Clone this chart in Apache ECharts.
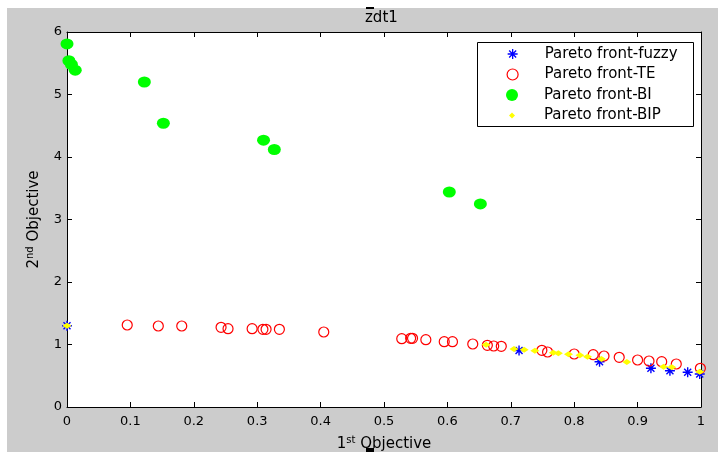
<!DOCTYPE html>
<html><head><meta charset="utf-8">
<script src="https://cdn.jsdelivr.net/npm/echarts@6/dist/echarts.min.js"></script>
<style>html,body{margin:0;padding:0;background:#fff}#c{width:718px;height:452px}</style>
</head><body><div id="c"></div>
<script>
// ---- data ----
const titleText = 'zdt1';
const seriesNames = ['Pareto front-fuzzy', 'Pareto front-TE', 'Pareto front-BI', 'Pareto front-BIP'];
const xMin = 0, xMax = 1, xStep = 0.1;
const yMin = 0, yMax = 6, yStep = 1;

const fuzzyPts = [[0, 1.30], [0.713, 0.905], [0.84, 0.725], [0.921, 0.62], [0.951, 0.58], [0.979, 0.555], [0.998, 0.528]];
const tePts = [
  [0.095, 1.312], [0.144, 1.296], [0.181, 1.296], [0.243, 1.275], [0.254, 1.253], [0.292, 1.253],
  [0.309, 1.243], [0.314, 1.243], [0.335, 1.243], [0.405, 1.20], [0.528, 1.093], [0.542, 1.099],
  [0.545, 1.099], [0.566, 1.077], [0.595, 1.045], [0.608, 1.045], [0.640, 1.008], [0.663, 0.987],
  [0.673, 0.976], [0.685, 0.971], [0.749, 0.907], [0.758, 0.88], [0.80, 0.848], [0.83, 0.837],
  [0.847, 0.816], [0.871, 0.795], [0.90, 0.752], [0.918, 0.736], [0.938, 0.725], [0.961, 0.688],
  [0.999, 0.619]
];
const biPts = [[0, 5.81], [0.003, 5.54], [0.007, 5.48], [0.013, 5.39], [0.122, 5.20], [0.152, 4.54],
  [0.31, 4.27], [0.327, 4.12], [0.603, 3.44], [0.652, 3.25]];
const bipPts = [[0, 1.30], [0.661, 0.997], [0.705, 0.93], [0.721, 0.917], [0.738, 0.90], [0.767, 0.87],
  [0.775, 0.859], [0.791, 0.843], [0.809, 0.827], [0.821, 0.805], [0.843, 0.768], [0.883, 0.72],
  [0.941, 0.645], [0.954, 0.635], [0.998, 0.565]];

// ---- styling ----
const FONT = 'DejaVu Sans';
const starPath = 'path://M0,5L10,5M5,0L5,10M1.5,1.5L8.5,8.5M1.5,8.5L8.5,1.5';
const diamondPath = 'path://M0,-1L1,0L0,1L-1,0Z';
const blue = '#0000ff', red = '#ff0000', green = '#00ff00', yellow = '#ffff00';

const chart = echarts.init(document.getElementById('c'));

const axisCommon = {
  type: 'value',
  axisLine: { show: true, onZero: false, lineStyle: { color: '#000', width: 1 } },
  axisTick: { show: true, inside: true, length: 5, lineStyle: { color: '#000' } },
  splitLine: { show: false }
};
const labelStyle = { color: '#000', fontFamily: FONT, fontSize: 13 };
const nameRich = {
  n: { fontFamily: FONT, fontSize: 15, color: '#000', lineHeight: 18 },
  s: { fontFamily: FONT, fontSize: 10, color: '#000', lineHeight: 10, verticalAlign: 'top' }
};

// icon centre at x=512, text starting at x=544
function legendFor(idx, centerY, h, icon, itemStyle) {
  return {
    left: 512 - h / 2, top: centerY - 10, padding: 0, itemWidth: 54, itemHeight: h,
    selectedMode: false, orient: 'vertical', symbolKeepAspect: true,
    textStyle: { fontFamily: FONT, fontSize: 15, color: '#000', lineHeight: 20 },
    data: [{ name: seriesNames[idx], icon: icon, itemStyle: itemStyle }]
  };
}

const option = {
  backgroundColor: '#cccccc',
  animation: false,
  title: { text: titleText, left: 360, top: 6, textStyle: { fontFamily: FONT, fontSize: 15, fontWeight: 'normal', color: '#000' } },
  grid: { left: 67, right: 17, top: 32, bottom: 45, show: true, backgroundColor: '#ffffff', borderWidth: 0,
          containLabel: false, outerBoundsMode: 'none' },
  xAxis: [
    Object.assign({}, axisCommon, {
      position: 'bottom', min: xMin, max: xMax, interval: xStep,
      axisLabel: Object.assign({ margin: 8 }, labelStyle),
      name: '{n|1}{s|st}{n| Objective}', nameLocation: 'middle', nameGap: 28,
      nameTextStyle: { rich: nameRich }
    }),
    Object.assign({}, axisCommon, {
      position: 'top', min: xMin, max: xMax, interval: xStep, axisLabel: { show: false }
    })
  ],
  yAxis: [
    Object.assign({}, axisCommon, {
      position: 'left', min: yMin, max: yMax, interval: yStep,
      axisLabel: Object.assign({ margin: 5 }, labelStyle),
      name: '{n|2}{s|nd}{n| Objective}', nameLocation: 'middle', nameGap: 24, nameRotate: 90,
      nameTextStyle: { rich: nameRich }
    }),
    Object.assign({}, axisCommon, {
      position: 'right', min: yMin, max: yMax, interval: yStep, axisLabel: { show: false }
    })
  ],
  legend: [
    legendFor(0, 54, 10, starPath, { color: blue, borderColor: blue, borderWidth: 1.3 }),
    legendFor(1, 74.5, 11, 'circle', { color: 'rgba(0,0,0,0)', borderColor: red, borderWidth: 1.2 }),
    legendFor(2, 95, 12, 'circle', { color: green, borderWidth: 0 }),
    legendFor(3, 115.5, 6, diamondPath, { color: yellow, borderWidth: 0 })
  ],
  graphic: [
    { type: 'rect', z: 0, shape: { x: 0, y: 0, width: 718, height: 8 }, style: { fill: '#fff' } },
    { type: 'rect', z: 0, shape: { x: 0, y: 0, width: 7, height: 452 }, style: { fill: '#fff' } },
    { type: 'rect', z: 0, shape: { x: 366, y: 7, width: 8, height: 2 }, style: { fill: '#000' } },
    { type: 'rect', z: 0, shape: { x: 366, y: 448, width: 8, height: 4 }, style: { fill: '#000' } },
    { type: 'rect', z: 3, shape: { x: 477.5, y: 42.5, width: 216, height: 84 }, style: { fill: '#fff', stroke: '#000', lineWidth: 1 } }
  ],
  series: [
    { name: seriesNames[0], type: 'scatter', data: fuzzyPts, symbol: starPath, symbolSize: 10, clip: false,
      itemStyle: { color: blue, borderColor: blue, borderWidth: 1.4, opacity: 1 } },
    { name: seriesNames[1], type: 'scatter', data: tePts, symbol: 'circle', symbolSize: 10, clip: false,
      itemStyle: { color: 'rgba(0,0,0,0)', borderColor: red, borderWidth: 1.2, opacity: 1 } },
    { name: seriesNames[2], type: 'scatter', data: biPts, symbol: 'circle', symbolSize: [13, 11], clip: false,
      itemStyle: { color: green, opacity: 1 } },
    { name: seriesNames[3], type: 'scatter', data: bipPts, symbol: 'diamond', symbolSize: [9, 6], clip: false,
      itemStyle: { color: yellow, opacity: 1 } }
  ]
};
chart.setOption(option);
</script>
</body></html>
